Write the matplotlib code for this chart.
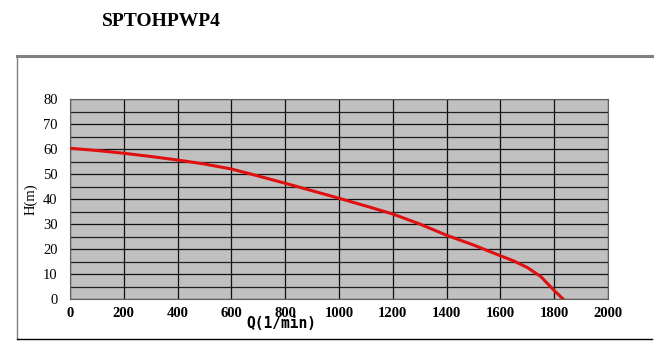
import matplotlib.pyplot as plt
from matplotlib.lines import Line2D
from matplotlib.ticker import MultipleLocator

# pump curve
flow = [0, 100, 200, 300, 400, 500, 600, 700, 800, 900, 1000, 1100, 1200, 1300,
        1400, 1500, 1600, 1650, 1700, 1750, 1800, 1833]
head = [60.3, 59.4, 58.3, 57.0, 55.6, 54.0, 52.0, 49.2, 46.3, 43.3, 40.3, 37.2, 34.0, 30.0,
        25.5, 21.6, 17.3, 15.2, 12.6, 9.0, 3.4, 0.0]
x_ticks = list(range(0, 2001, 200))
y_ticks = list(range(0, 81, 10))

fig = plt.figure(figsize=(6.63, 3.53), dpi=100)
fig.text(102 / 663, 1 - 21 / 353, "SPTOHPWP4", family="Liberation Serif",
         fontweight="bold", fontsize=14, va="center", ha="left")

# outer frame around the chart
fig.add_artist(Line2D([17 / 663, 652 / 663], [1 - 56 / 353] * 2, color="#808080", lw=2.2))
fig.add_artist(Line2D([17 / 663] * 2, [1 - 56 / 353, 1 - 339 / 353], color="#808080", lw=1))
fig.add_artist(Line2D([17 / 663, 652 / 663], [1 - 339 / 353] * 2, color="black", lw=1))

ax = fig.add_axes([70 / 663, 1 - 299 / 353, 538 / 663, 200 / 353])
ax.set_facecolor("#c0c0c0")
ax.plot(flow, head, color="#e01010", lw=2.2, zorder=3)
ax.set_xlim(0, 2000)
ax.set_ylim(0, 80)
ax.set_xticks(x_ticks)
ax.set_yticks(y_ticks)
ax.yaxis.set_minor_locator(MultipleLocator(5))
ax.grid(True, which="major", color="#101010", lw=0.9)
ax.grid(True, which="minor", axis="y", color="#202020", lw=0.9)
ax.set_axisbelow(True)
for s in ax.spines.values():
    s.set_color("#606060")
    s.set_linewidth(0.8)
ax.tick_params(which="both", length=0, pad=6)
for lab in ax.get_xticklabels():
    lab.set_family("Liberation Serif")
    lab.set_fontweight("bold")
    lab.set_fontsize(10.5)
for lab in ax.get_yticklabels():
    lab.set_family("Liberation Serif")
    lab.set_fontsize(10.5)
ax.tick_params(axis="y", pad=9)

# in the source the Q label sits partly over the "800" tick
ax.set_xlabel("Q(1/min)", family="DejaVu Sans Mono", fontsize=10.5, fontweight="bold")
ax.xaxis.label.set_va("center")
ax.xaxis.set_label_coords((281 - 70) / 538, -25 / 200)
ax.set_ylabel("H(m)", family="Liberation Serif", fontsize=10.5)
ax.yaxis.label.set_va("center")
ax.yaxis.set_label_coords(-39 / 538, 0.5)

fig.savefig("out.png", dpi=100)
